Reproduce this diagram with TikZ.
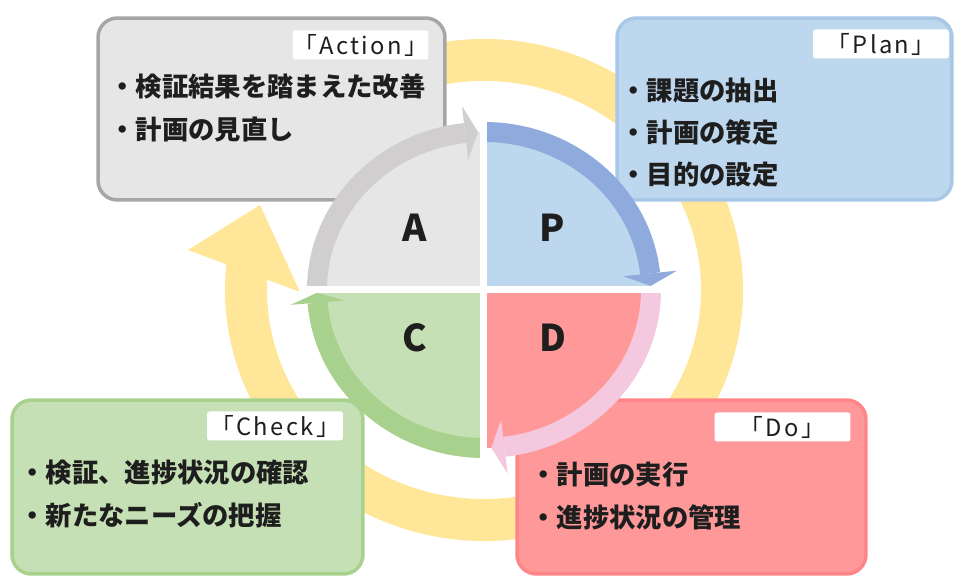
\documentclass[tikz,border=0pt]{standalone}
\usepackage{fontspec}
\setmainfont{Noto Sans CJK JP}
\usetikzlibrary{positioning}

\definecolor{ringyellow}{HTML}{FFE699}
\definecolor{actfill}{HTML}{E7E6E6}
\definecolor{actline}{HTML}{A6A6A6}
\definecolor{actband}{HTML}{D0CECE}
\definecolor{planfill}{HTML}{BDD7EE}
\definecolor{planline}{HTML}{A9C8E8}
\definecolor{planband}{HTML}{8FAADC}
\definecolor{chkfill}{HTML}{C5E0B4}
\definecolor{chkline}{HTML}{A9D18E}
\definecolor{chkband}{HTML}{A9D18E}
\definecolor{dofill}{HTML}{FF9999}
\definecolor{doline}{HTML}{FF8589}
\definecolor{doband}{HTML}{F4C8DE}
\definecolor{ink}{HTML}{1E1E1E}

\begin{document}
\begin{tikzpicture}[x=0.02cm, y=0.02cm,
		box/.style = {draw, line width=2pt, rounded corners=11pt, inner sep=0pt},
		tag/.style = {fill=white, rounded corners=1.5pt, inner sep=0pt, minimum width=2.72cm, minimum height=0.58cm, text=ink, font=\fontsize{13.5pt}{14pt}\selectfont\addfontfeature{LetterSpace=10}},
		item/.style = {anchor=west, inner sep=0pt, align=left, text=ink, font=\bfseries\fontsize{15pt}{24pt}\selectfont},
		quad/.style = {text=ink, font=\bfseries\fontsize{21pt}{21pt}\selectfont},
		band/.style = {line width=0.4cm}]
		\useasboundingbox (-484,-287) rectangle (470,290);
		% big yellow cycle
		\draw[ringyellow, line width=0.84cm] (115:238 and 230) arc[start angle=115, end angle=-186.5, x radius=238, y radius=230];
		\fill[ringyellow] (-296,40) -- (-224,85) -- (-184,-2) -- cycle;
		% boxes
		\node[box, draw=actline, fill=actfill, minimum width=6.94cm, minimum height=3.64cm] at (-212.5,181) (actbox) {};
		\node[box, draw=planline, fill=planfill, minimum width=6.7cm, minimum height=3.64cm] at (300.5,181) (planbox) {};
		\node[box, draw=chkline, fill=chkfill, minimum width=7.02cm, minimum height=3.48cm] at (-296.5,-197) (chkbox) {};
		\node[box, draw=doline, fill=dofill, minimum width=6.98cm, minimum height=3.48cm] at (207.5,-197) (dobox) {};
		\node[tag] at (-123.5,245) (acttag) {「Action」};
		\node[tag] at (397,246) (plantag) {「Plan」};
		\node[tag] at (-209,-136) (chktag) {「Check」};
		\node[tag] at (298.5,-137) (dotag) {「Do」};
		\node[item] at (-375,182) (actitems) {・検証結果を踏まえた改善\\・計画の見直し};
		\node[item] at (136,157.5) (planitems) {・課題の抽出\\・計画の策定\\・目的の設定};
		\node[item] at (-465,-204) (chkitems) {・検証、進捗状況の確認\\・新たなニーズの把握};
		\node[item] at (46,-206) (doitems) {・計画の実行\\・進捗状況の管理};
		% quarters
		\fill[actfill] (0,0) -- (90:167 and 158) arc[start angle=90, end angle=180, x radius=167, y radius=158] -- cycle;
		\fill[planfill] (0,0) -- (0:167 and 158) arc[start angle=0, end angle=90, x radius=167, y radius=158] -- cycle;
		\fill[chkfill] (0,0) -- (180:167 and 158) arc[start angle=180, end angle=270, x radius=167, y radius=158] -- cycle;
		\fill[dofill] (0,0) -- (270:167 and 158) arc[start angle=270, end angle=360, x radius=167, y radius=158] -- cycle;
		\draw[band, planband] (90:167 and 158) arc[start angle=90, end angle=6, x radius=167, y radius=158];
		\draw[band, doband] (0:167 and 158) arc[start angle=0, end angle=-83, x radius=167, y radius=158];
		\draw[band, chkband] (-90:167 and 158) arc[start angle=-90, end angle=-175.4, x radius=167, y radius=158];
		\draw[band, actband] (180:167 and 158) arc[start angle=180, end angle=96.5, x radius=167, y radius=158];
		\draw[white, line width=0.14cm] (-185,0) -- (185,0) (0,-180) -- (0,180);
		\fill[planband] (6:194 and 185) -- (1.5:167 and 158) -- (6:140 and 131) -- cycle;
		\fill[doband] (-83:194 and 185) -- (-87.5:167 and 158) -- (-83:140 and 131) -- cycle;
		\fill[chkband] (-175.4:194 and 185) -- (-179:167 and 158) -- (-175.4:140 and 131) -- cycle;
		\fill[actband] (96.5:194 and 185) -- (92:167 and 158) -- (96.5:140 and 131) -- cycle;
		\node[quad] at (-69,62) (qa) {A};
		\node[quad] at (68,62) (qp) {P};
		\node[quad] at (-69,-48) (qc) {C};
		\node[quad] at (69,-48) (qd) {D};
	\end{tikzpicture}
\end{document}
